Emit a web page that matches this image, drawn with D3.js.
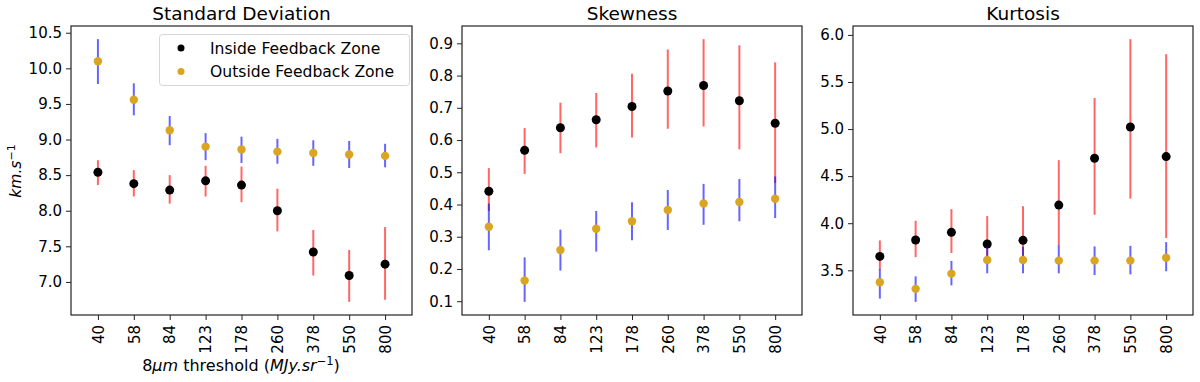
<!DOCTYPE html>
<html>
<head>
<meta charset="utf-8">
<script src="https://cdn.jsdelivr.net/npm/d3@7"></script>
<style>
  body { margin: 0; background: #fff; }
  text { font-family: "DejaVu Sans", sans-serif; fill: #000; }
</style>
</head>
<body>
<div id="chart"></div>
<script>
var w = 1200;
var h = 382;

// thresholds (categorical x axis)
var thresholds = ["40", "58", "84", "123", "178", "260", "378", "550", "800"];

// Standard deviation
var sdIn = [8.54, 8.38, 8.29, 8.42, 8.36, 8.00, 7.42, 7.09, 7.25];
var sdInLo = [8.36, 8.20, 8.10, 8.20, 8.12, 7.71, 7.09, 6.72, 6.75];
var sdInHi = [8.71, 8.57, 8.50, 8.63, 8.62, 8.31, 7.73, 7.45, 7.77];
var sdOut = [10.10, 9.56, 9.13, 8.90, 8.86, 8.83, 8.81, 8.79, 8.77];
var sdOutLo = [9.78, 9.34, 8.92, 8.71, 8.67, 8.66, 8.63, 8.60, 8.61];
var sdOutHi = [10.41, 9.79, 9.33, 9.09, 9.04, 9.01, 8.99, 8.98, 8.94];
var sdTicks = [7.0, 7.5, 8.0, 8.5, 9.0, 9.5, 10.0, 10.5];

// Skewness
var skIn = [0.441, 0.568, 0.638, 0.663, 0.704, 0.752, 0.769, 0.722, 0.652];
var skInLo = [0.380, 0.495, 0.559, 0.577, 0.608, 0.635, 0.642, 0.571, 0.467];
var skInHi = [0.513, 0.637, 0.716, 0.746, 0.806, 0.881, 0.913, 0.894, 0.841];
var skOut = [0.331, 0.164, 0.259, 0.325, 0.348, 0.383, 0.403, 0.408, 0.418];
var skOutLo = [0.258, 0.098, 0.195, 0.254, 0.289, 0.321, 0.337, 0.348, 0.358];
var skOutHi = [0.403, 0.236, 0.322, 0.380, 0.407, 0.445, 0.464, 0.479, 0.487];
var skTicks = [0.1, 0.2, 0.3, 0.4, 0.5, 0.6, 0.7, 0.8, 0.9];

// Kurtosis
var kuIn = [3.648, 3.822, 3.903, 3.780, 3.818, 4.193, 4.690, 5.022, 4.708];
var kuInLo = [3.510, 3.640, 3.684, 3.645, 3.640, 3.770, 4.090, 4.262, 3.843];
var kuInHi = [3.818, 4.026, 4.150, 4.076, 4.180, 4.670, 5.330, 5.955, 5.795];
var kuOut = [3.373, 3.303, 3.465, 3.610, 3.610, 3.603, 3.603, 3.603, 3.634];
var kuOutLo = [3.200, 3.165, 3.340, 3.468, 3.468, 3.468, 3.450, 3.457, 3.490];
var kuOutHi = [3.515, 3.436, 3.600, 3.750, 3.750, 3.770, 3.754, 3.760, 3.800];
var kuTicks = [3.5, 4.0, 4.5, 5.0, 5.5, 6.0];

var legendLabels = ["Inside Feedback Zone", "Outside Feedback Zone"];

var plotTop = 26, plotBottom = 315;
var goldColor = "#daa520";

var svg = d3.select("#chart")
    .append("svg")
    .attr("width", w)
    .attr("height", h);

function rows(vals, lo, hi) {
    return vals.map(function(v, i) {
        return { cat: i, v: v, lo: lo[i], hi: hi[i] };
    });
}

function panel(left, right, title, inside, outside, ticks) {
    var all = inside.concat(outside);
    var ymin = d3.min(all, function(d) { return d.lo; });
    var ymax = d3.max(all, function(d) { return d.hi; });
    var pad = (ymax - ymin) * 0.05;

    var xScale = d3.scaleLinear()
        .domain([-0.75, thresholds.length - 0.25])
        .range([left, right]);
    var yScale = d3.scaleLinear()
        .domain([ymin - pad, ymax + pad])
        .range([plotBottom, plotTop]);

    var g = svg.append("g");

    // axes
    var yAxis = d3.axisLeft(yScale)
        .tickValues(ticks)
        .tickFormat(d3.format(".1f"))
        .tickSize(5)
        .tickPadding(4);
    g.append("g")
        .attr("transform", "translate(" + left + ",0)")
        .call(yAxis)
        .call(function(s) { s.select(".domain").remove(); })
        .selectAll("text")
        .style("font-size", "15px")
        .style("font-family", "DejaVu Sans");

    var xAxis = d3.axisBottom(xScale)
        .tickValues(d3.range(thresholds.length))
        .tickFormat(function(i) { return thresholds[i]; })
        .tickSize(5)
        .tickPadding(4);
    var xg = g.append("g")
        .attr("transform", "translate(0," + plotBottom + ")")
        .call(xAxis)
        .call(function(s) { s.select(".domain").remove(); });
    xg.selectAll("text")
        .style("font-size", "15px")
        .style("font-family", "DejaVu Sans")
        .attr("transform", "rotate(-90)")
        .attr("text-anchor", "end")
        .attr("x", -10)
        .attr("y", 0)
        .attr("dy", "0.35em");

    g.selectAll(".tick line").attr("stroke", "#222");

    // error bars + points
    g.selectAll(".errIn")
        .data(inside)
        .enter()
        .append("line")
        .attr("x1", function(d) { return xScale(d.cat); })
        .attr("x2", function(d) { return xScale(d.cat); })
        .attr("y1", function(d) { return yScale(d.lo); })
        .attr("y2", function(d) { return yScale(d.hi); })
        .attr("stroke", "red")
        .attr("stroke-opacity", 0.6)
        .attr("stroke-width", 2);

    g.selectAll(".ptIn")
        .data(inside)
        .enter()
        .append("circle")
        .attr("cx", function(d) { return xScale(d.cat); })
        .attr("cy", function(d) { return yScale(d.v); })
        .attr("r", 4.5)
        .attr("fill", "#000");

    g.selectAll(".errOut")
        .data(outside)
        .enter()
        .append("line")
        .attr("x1", function(d) { return xScale(d.cat); })
        .attr("x2", function(d) { return xScale(d.cat); })
        .attr("y1", function(d) { return yScale(d.lo); })
        .attr("y2", function(d) { return yScale(d.hi); })
        .attr("stroke", "blue")
        .attr("stroke-opacity", 0.6)
        .attr("stroke-width", 2);

    g.selectAll(".ptOut")
        .data(outside)
        .enter()
        .append("circle")
        .attr("cx", function(d) { return xScale(d.cat); })
        .attr("cy", function(d) { return yScale(d.v); })
        .attr("r", 4.2)
        .attr("fill", goldColor);

    // frame
    g.append("rect")
        .attr("x", left)
        .attr("y", plotTop)
        .attr("width", right - left)
        .attr("height", plotBottom - plotTop)
        .attr("fill", "none")
        .attr("stroke", "#222")
        .attr("stroke-width", 1.2);

    // title
    g.append("text")
        .attr("x", (left + right) / 2)
        .attr("y", 20)
        .attr("text-anchor", "middle")
        .style("font-size", "18.5px")
        .text(title);

    return g;
}

panel(71, 412, "Standard Deviation",
    rows(sdIn, sdInLo, sdInHi), rows(sdOut, sdOutLo, sdOutHi), sdTicks);
panel(462, 802, "Skewness",
    rows(skIn, skInLo, skInHi), rows(skOut, skOutLo, skOutHi), skTicks);
panel(853, 1193, "Kurtosis",
    rows(kuIn, kuInLo, kuInHi), rows(kuOut, kuOutLo, kuOutHi), kuTicks);

// legend (first panel)
var lg = svg.append("g");
lg.append("rect")
    .attr("x", 159.5)
    .attr("y", 34.5)
    .attr("width", 250)
    .attr("height", 51)
    .attr("rx", 3)
    .attr("fill", "#fff")
    .attr("fill-opacity", 0.8)
    .attr("stroke", "#d6d6d6");
[["#000", 48], [goldColor, 71.5]].forEach(function(m, i) {
    lg.append("circle")
        .attr("cx", 181)
        .attr("cy", m[1])
        .attr("r", 3.5)
        .attr("fill", m[0]);
    lg.append("text")
        .attr("x", 210)
        .attr("y", m[1])
        .attr("dy", "0.36em")
        .style("font-size", "15.6px")
        .text(legendLabels[i]);
});

// y label
var yl = svg.append("text")
    .attr("transform", "translate(21,171) rotate(-90)")
    .attr("text-anchor", "middle")
    .style("font-size", "15.5px");
yl.append("tspan").style("font-style", "italic").text("km.s");
yl.append("tspan").attr("dy", -6).style("font-size", "11px").text("\u22121");

// x label
var xl = svg.append("text")
    .attr("x", 241)
    .attr("y", 371)
    .attr("text-anchor", "middle")
    .style("font-size", "16px");
xl.append("tspan").text("8");
xl.append("tspan").style("font-style", "italic").text("\u03bcm");
xl.append("tspan").text(" threshold (");
xl.append("tspan").style("font-style", "italic").text("MJy.sr");
xl.append("tspan").attr("dy", -6).style("font-size", "11.5px").text("\u22121");
xl.append("tspan").attr("dy", 6).text(")");
</script>
</body>
</html>
